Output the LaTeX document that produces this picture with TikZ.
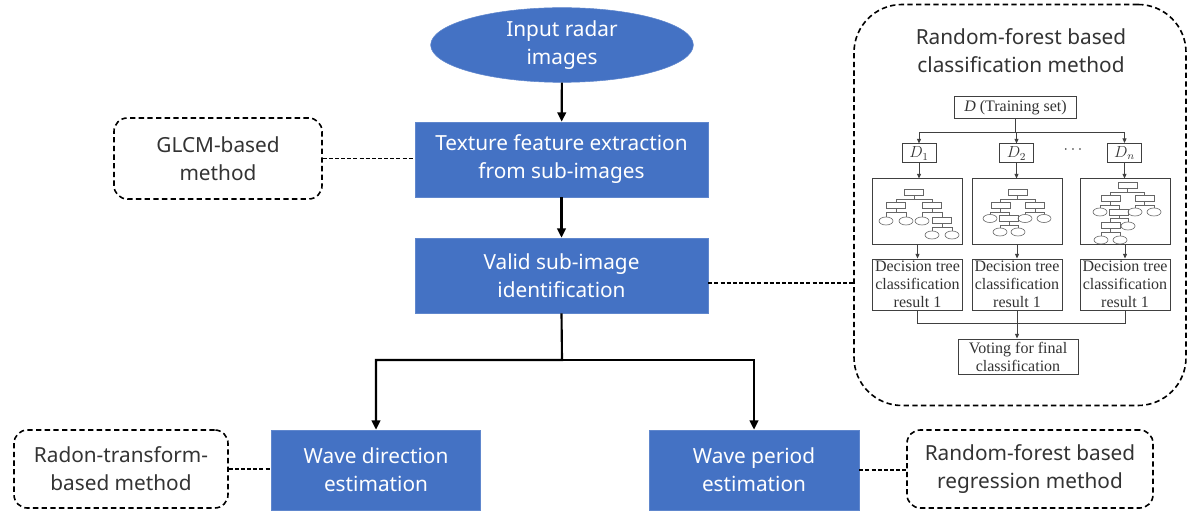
\documentclass[tikz,border=0pt]{standalone}
\usepackage{fontspec}
\setmainfont{Liberation Serif}
\newfontfamily\sansf{Noto Sans}
\usetikzlibrary{shapes.geometric,arrows.meta,calc}
\definecolor{boxblue}{HTML}{4472C4}
\definecolor{txtgray}{HTML}{333333}
\definecolor{inline}{HTML}{404040}
\begin{document}
\begin{tikzpicture}[x=0.75pt,y=-0.75pt,
  mainfont/.style={font=\sansf\fontsize{15.6}{21}\selectfont},
  bluebox/.style={rectangle, fill=boxblue, draw=boxblue!85!white, line width=0.5pt, text=white, align=center, inner sep=0pt, mainfont},
  dashbox/.style={rectangle, draw=black, line width=1.2pt, dash pattern=on 4pt off 2.5pt, rounded corners=10pt, text=txtgray, align=center, inner sep=0pt, mainfont},
  mainarrow/.style={line width=1.6pt, -{Triangle[length=7pt,width=6.5pt]}},
  dashline/.style={line width=1.3pt, dash pattern=on 3pt off 1.6pt},
  ibox/.style={rectangle, draw=inline, line width=0.75pt, align=center, inner sep=0pt, font=\fontsize{12}{13.5}\selectfont, text=txtgray},
  iline/.style={draw=inline, line width=0.75pt},
  iarrow/.style={draw=inline, line width=0.75pt, -{Triangle[length=3.5pt,width=3pt]}},
  tr/.style={rectangle, draw=gray!80!black, line width=0.45pt, minimum width=14pt, minimum height=4.5pt, inner sep=0pt},
  te/.style={ellipse, draw=gray!80!black, line width=0.45pt, minimum width=10.5pt, minimum height=6pt, inner sep=0pt},
  tl/.style={draw=gray!80!black, line width=0.45pt}
]
\useasboundingbox (0,0) rectangle (1194,513);

% main flow
\node[ellipse, fill=boxblue, draw=boxblue!85!white, minimum width=197pt, minimum height=56pt, inner sep=0pt, text=white, align=center, mainfont] (inp) at (562,45) {Input radar\\images};
\node[bluebox, minimum width=219.75pt, minimum height=56.25pt] (tex) at (561.5,159.5) {Texture feature extraction\\from sub-images};
\node[bluebox, minimum width=219.75pt, minimum height=56.25pt] (val) at (561.5,275.5) {Valid sub-image\\identification};
\node[bluebox, minimum width=156.75pt, minimum height=60pt] (wd) at (376,470) {Wave direction\\estimation};
\node[bluebox, minimum width=157.5pt, minimum height=60pt] (wp) at (754,470) {Wave period\\estimation};

% side method boxes
\node[dashbox, minimum width=156pt, minimum height=60.75pt] (glcm) at (218,158.5) {GLCM-based\\method};
\node[dashbox, minimum width=160.5pt, minimum height=58.5pt] (radon) at (121,469) {Radon-transform-\\based method};
\node[dashbox, minimum width=184.5pt, minimum height=58.5pt] (rfr) at (1030,469) {Random-forest based\\regression method};
\node[rectangle, draw=black, line width=1.2pt, dash pattern=on 4pt off 2.5pt, rounded corners=36pt, minimum width=249pt, minimum height=300.75pt, inner sep=0pt] (rfc) at (1020,205) {};
\node[align=center, text=txtgray, mainfont] (rft) at (1021,51) {Random-forest based\\classification method};

% main connectors
\draw[mainarrow] (inp) -- (tex);
\draw[mainarrow] (tex) -- (val);
\coordinate (j) at (562,360);
\draw[mainarrow] (val.south) -- (j) -| (wd.north);
\draw[mainarrow] (j) -| (wp.north);

% dashed connectors
\draw[dashline] (glcm.east) -- (glcm.east -| tex.west);
\coordinate (vd) at ($(val.east)+(0,7.5)$);
\draw[dashline] (vd) -- (vd -| rfc.west);
\draw[dashline] (radon.east) -- (radon.east -| wd.west);
\draw[dashline] (wp.east) -- (wp.east -| rfr.west);

% inset: random forest
\node[ibox, minimum width=92pt, minimum height=16.5pt] (D) at (1015.5,108) {\textit{D} (Training set)};
\node[ibox, minimum width=25.5pt, minimum height=14.25pt] (d1) at (919,153.5) {$D_1$};
\node[ibox, minimum width=25.5pt, minimum height=14.25pt] (d2) at (1016.5,153.5) {$D_2$};
\node[ibox, minimum width=25.5pt, minimum height=14.25pt] (dn) at (1124.5,153) {$D_n$};
\node[text=txtgray, font=\fontsize{11.5}{13.5}\selectfont] (dots) at (1073,150) {$\cdots$};
\node[ibox, minimum width=67.5pt, minimum height=48.75pt] (t1) at (917,211.5) {};
\node[ibox, minimum width=67.5pt, minimum height=48.75pt] (t2) at (1017,211.5) {};
\node[ibox, minimum width=67.5pt, minimum height=48.75pt] (t3) at (1125.5,211.5) {};
\node[ibox, minimum width=67.5pt, minimum height=38.25pt] (r1) at (917.5,284.5) {Decision tree\\classification\\result 1};
\node[ibox, minimum width=67.5pt, minimum height=38.25pt] (r2) at (1017,284.5) {Decision tree\\classification\\result 1};
\node[ibox, minimum width=67.5pt, minimum height=38.25pt] (r3) at (1125,284.5) {Decision tree\\classification\\result 1};
\node[ibox, minimum width=90pt, minimum height=26.25pt] (v) at (1018,356.5) {Voting for final\\classification};

\coordinate (sp) at ($(D.south)+(0,13)$);
\draw[iline] (D.south) -- (sp);
\draw[iarrow] (sp) -| (d1.north);
\draw[iarrow] (sp) -| (dn.north);
\draw[iarrow] (sp) -- (sp -| d2.north) -- (d2.north);
\draw[iarrow] (d1.south) -- (d1.south |- t1.north);
\draw[iarrow] (d2.south) -- (d2.south |- t2.north);
\draw[iarrow] (dn.south) -- (dn.south |- t3.north);
\draw[iarrow] (t1.south -| r1.north) -- (r1.north);
\draw[iarrow] (t2.south -| r2.north) -- (r2.north);
\draw[iarrow] (t3.south -| r3.north) -- (r3.north);
\coordinate (jv) at (1017,323);
\draw[iline] (r1.south) -- (r1.south |- jv) -- (r3.south |- jv) -- (r3.south);
\draw[iarrow] (r2.south) -- (r2.south |- v.north);

% tree 1
\node[tr] at (914,192) {}; \node[tr] at (896,205.5) {}; \node[tr] at (932,205.5) {};
\draw[tl] (914,195) -- (914,199) (896,202.5) |- (932,199) -- (932,202.5);
\node[te] at (886,221) {}; \node[te] at (906,221) {};
\draw[tl] (896,208.5) -- (896,212) (886,217) |- (906,212) -- (906,217);
\node[te] at (922,221) {}; \node[tr] at (942,220.5) {};
\draw[tl] (932,208.5) -- (932,212) (922,217) |- (942,212) -- (942,217.5);
\node[te] at (932,235) {}; \node[te] at (952,235) {};
\draw[tl] (942,223.5) -- (942,227) (932,231) |- (952,227) -- (952,231);

% tree 2
\node[tr] at (1017.5,192) {}; \node[tr] at (1000.5,205.5) {}; \node[tr] at (1035,205.5) {};
\draw[tl] (1017.5,195) -- (1017.5,199) (1000.5,202.5) |- (1035,199) -- (1035,202.5);
\node[te] at (990,218.5) {}; \node[tr] at (1009,218.5) {};
\draw[tl] (1000.5,208.5) -- (1000.5,212) (990,214.5) |- (1009,212) -- (1009,215.5);
\node[te] at (1025,218.5) {}; \node[te] at (1044,218.5) {};
\draw[tl] (1035,208.5) -- (1035,212) (1025,214.5) |- (1044,212) -- (1044,214.5);
\node[te] at (1000,232) {}; \node[te] at (1018,232) {};
\draw[tl] (1009,221.5) -- (1009,225) (1000,228) |- (1018,225) -- (1018,228);

% tree 3
\node[tr] at (1127.5,185.5) {}; \node[tr] at (1110.5,198) {}; \node[tr] at (1144.5,198) {};
\draw[tl] (1127.5,188.5) -- (1127.5,192) (1110.5,195) |- (1144.5,192) -- (1144.5,195);
\node[te] at (1100,212) {}; \node[tr] at (1119,212) {};
\draw[tl] (1110.5,201) -- (1110.5,205) (1100,208) |- (1119,205) -- (1119,209);
\node[te] at (1135,212) {}; \node[te] at (1154,212) {};
\draw[tl] (1144.5,201) -- (1144.5,205) (1135,208) |- (1154,205) -- (1154,208);
\node[tr] at (1110.5,225.5) {}; \node[te] at (1128,226) {};
\draw[tl] (1119,215) -- (1119,218.5) (1110.5,222.5) |- (1128,218.5) -- (1128,222);
\node[te] at (1101,240) {}; \node[te] at (1120,240) {};
\draw[tl] (1110.5,228.5) -- (1110.5,232) (1101,236) |- (1120,232) -- (1120,236);
\end{tikzpicture}
\end{document}
